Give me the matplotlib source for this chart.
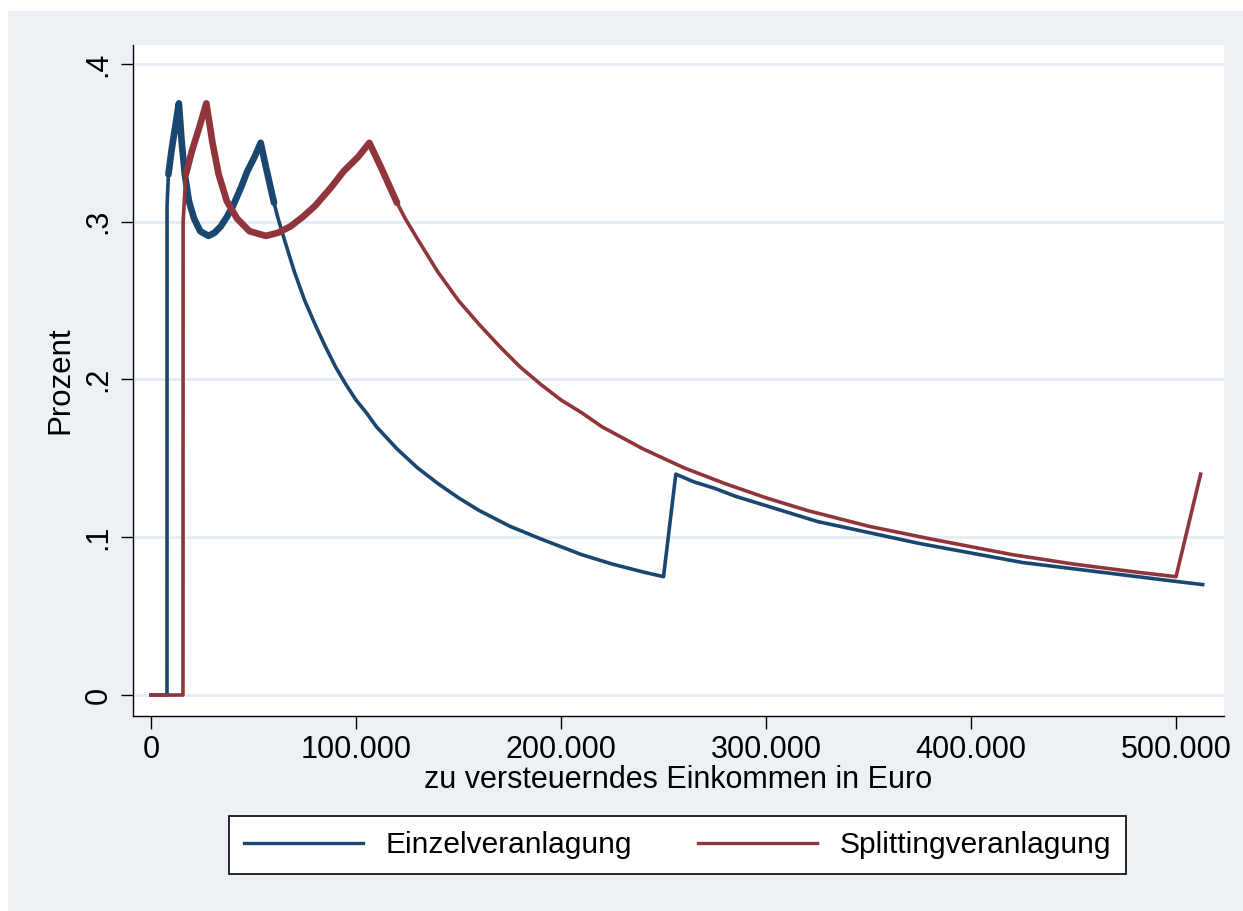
import matplotlib
matplotlib.use("Agg")
import matplotlib.pyplot as plt
from matplotlib.patches import Rectangle

plt.rcParams['font.family'] = ['Liberation Sans', 'DejaVu Sans']

# Einzelveranlagung
einzel_x = [0, 7800, 7834, 8500, 10000, 11800, 13600, 15000, 16500, 18500, 21000,
            24000, 28000, 31000, 34000, 37000, 40000, 44000, 47000, 50500, 53500,
            56000, 60000, 62000, 65000, 70000, 75000, 80000, 85000, 90000, 95000,
            100000, 105000, 110000, 120000, 130000, 140000, 150000, 160000,
            175000, 190000, 200000, 210000, 225000, 240000, 250000,
            256000, 265000, 275000, 285000, 300000, 325000, 350000, 375000,
            400000, 425000, 450000, 475000, 500000, 513000]
einzel_y = [0, 0, 0.31, 0.33, 0.345, 0.36, 0.375, 0.35, 0.33, 0.313, 0.302,
            0.294, 0.291, 0.293, 0.297, 0.303, 0.31, 0.322, 0.332, 0.341, 0.35,
            0.335, 0.312, 0.302, 0.289, 0.268, 0.25, 0.235, 0.221, 0.208, 0.197,
            0.187, 0.179, 0.17, 0.156, 0.144, 0.134, 0.125, 0.117,
            0.107, 0.099, 0.094, 0.089, 0.083, 0.078, 0.075,
            0.14, 0.135, 0.131, 0.126, 0.12, 0.11, 0.103, 0.096,
            0.09, 0.084, 0.08, 0.076, 0.072, 0.07]

# Splittingveranlagung
split_x = [0, 15600, 15668, 17000, 20000, 23600, 27000, 30000, 33000, 37000, 42000,
           48000, 56000, 62000, 68000, 74000, 80000, 88000, 94000, 101000, 106500,
           112000, 120000, 124000, 130000, 140000, 150000, 160000, 170000, 180000,
           190000, 200000, 210000, 220000, 240000, 260000, 280000, 300000,
           320000, 350000, 380000, 400000, 420000, 450000, 480000, 500000, 512000]
split_y = [0, 0, 0.30, 0.33, 0.345, 0.36, 0.375, 0.35, 0.33, 0.313, 0.302,
           0.294, 0.291, 0.293, 0.297, 0.303, 0.31, 0.322, 0.332, 0.341, 0.35,
           0.335, 0.312, 0.302, 0.289, 0.268, 0.25, 0.235, 0.221, 0.208,
           0.197, 0.187, 0.179, 0.17, 0.156, 0.144, 0.134, 0.125,
           0.117, 0.107, 0.099, 0.094, 0.089, 0.083, 0.078, 0.075, 0.14]

x_ticks = [0, 100000, 200000, 300000, 400000, 500000]
x_labels = ['0', '100.000', '200.000', '300.000', '400.000', '500.000']
y_ticks = [0, 0.1, 0.2, 0.3, 0.4]
y_labels = ['0', '.1', '.2', '.3', '.4']

blue = '#1a476f'
red = '#90353b'
bg = '#edf1f6'

fig = plt.figure(figsize=(12.43, 9.11), dpi=100, facecolor='white')
fig.patches.append(Rectangle((8 / 1243, 0), 1, 900 / 911, transform=fig.transFigure,
                             facecolor=bg, edgecolor='none', zorder=-10))

ax = fig.add_axes([133 / 1243, 195 / 911, 1091 / 1243, 671 / 911])
ax.set_facecolor('white')

ax.plot(einzel_x, einzel_y, color=blue, lw=2.6, label='Einzelveranlagung', zorder=3,
        solid_joinstyle='round')
ax.plot(split_x, split_y, color=red, lw=2.6, label='Splittingveranlagung', zorder=4,
        solid_joinstyle='round')
# jittery (thick) early sections
ax.plot(einzel_x[3:23], einzel_y[3:23], color=blue, lw=4.8, zorder=3,
        solid_capstyle='round')
ax.plot(split_x[3:23], split_y[3:23], color=red, lw=4.8, zorder=4,
        solid_capstyle='round')

ax.set_xlim(-8780, 523400)
ax.set_ylim(-0.0133, 0.412)
ax.set_xticks(x_ticks)
ax.set_xticklabels(x_labels)
ax.set_yticks(y_ticks)
ax.set_yticklabels(y_labels, rotation=90, va='center')
ax.grid(axis='y', color='#e6ecf3', lw=2)
ax.set_axisbelow(True)

for s in ['top', 'right']:
    ax.spines[s].set_visible(False)
for s in ['left', 'bottom']:
    ax.spines[s].set_linewidth(1.0)
ax.tick_params(length=9, width=1, labelsize=22, pad=5)

ax.set_xlabel('zu versteuerndes Einkommen in Euro', fontsize=22, labelpad=0)
ax.set_ylabel('Prozent', fontsize=22.5, labelpad=6)

leg = fig.legend(loc='center', bbox_to_anchor=(0.545, 0.072), ncol=2, fontsize=21.5,
                 frameon=True, fancybox=False, handlelength=4.0, handletextpad=0.75,
                 columnspacing=2.2, borderpad=0.5, borderaxespad=0, framealpha=1)
leg.get_frame().set_edgecolor('black')
leg.get_frame().set_facecolor('white')
leg.get_frame().set_linewidth(1.2)
for line in leg.get_lines():
    line.set_linewidth(2.4)

fig.savefig('out.png', dpi=100, facecolor='white')
